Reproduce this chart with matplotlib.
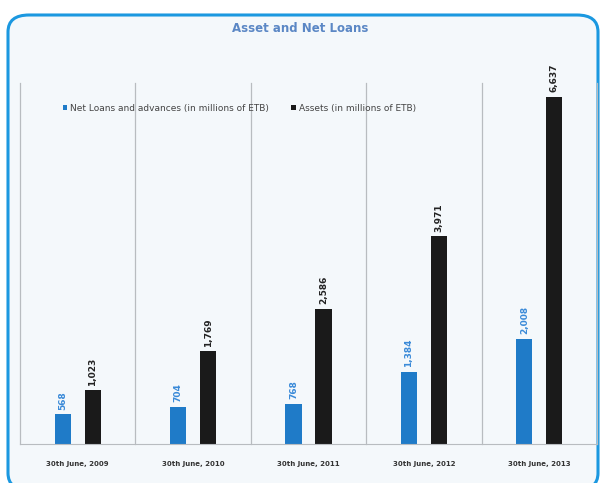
import matplotlib.pyplot as plt
from matplotlib.patches import FancyBboxPatch
import numpy as np

# data
periods = ['30th June, 2009', '30th June, 2010', '30th June, 2011',
           '30th June, 2012', '30th June, 2013']
net_loans = [568, 704, 768, 1384, 2008]
assets = [1023, 1769, 2586, 3971, 6637]
loan_labels = ['568', '704', '768', '1,384', '2,008']
asset_labels = ['1,023', '1,769', '2,586', '3,971', '6,637']

W, H = 600, 483
fig = plt.figure(figsize=(W / 100, H / 100), dpi=100)
fig.patch.set_facecolor('white')

# rounded blue frame, kept behind the axes
frame = FancyBboxPatch((8 / W, 1 - 490 / H), 590 / W, 475 / H,
                       boxstyle='round,pad=0,rounding_size=0.035',
                       transform=fig.transFigure, facecolor='#f4f8fb',
                       edgecolor='#1b98e0', linewidth=2.2, zorder=-10)
fig.patches.append(frame)

fig.text(300 / W, 1 - 29 / H, 'Asset and Net Loans', ha='center', va='center',
         color='#5b87c5', fontsize=8.5, fontweight='bold')

ax = fig.add_axes([20 / W, 1 - 444 / H, 577 / W, 361 / H])
ax.set_facecolor('none')

x = np.arange(len(periods))
bw = 0.14
off = 0.13
ax.bar(x - off, net_loans, bw, color='#1f7bc8',
       label='Net Loans and advances (in millions of ETB)')
ax.bar(x + off, assets, bw, color='#1a1a1a',
       label='Assets (in millions of ETB)')

for xi, v, s in zip(x, net_loans, loan_labels):
    ax.text(xi - off, v + 90, s, rotation=90, ha='center', va='bottom',
            fontsize=6.5, fontweight='bold', color='#3a8ad8')
for xi, v, s in zip(x, assets, asset_labels):
    ax.text(xi + off, v + 90, s, rotation=90, ha='center', va='bottom',
            fontsize=6.5, fontweight='bold', color='#222222')

ax.set_xlim(-0.5, len(periods) - 0.5)
ax.set_ylim(0, 6900)

# separators between periods
for b in np.arange(-0.5, len(periods), 1.0):
    ax.axvline(b, color='#b8bcc0', lw=0.9, clip_on=False)

for s in ['top', 'right', 'left']:
    ax.spines[s].set_visible(False)
ax.spines['bottom'].set_color('#b8bcc0')
ax.set_yticks([])
ax.set_xticks(x)
ax.set_xticklabels(periods, fontsize=5, fontweight='bold', color='#333333')
ax.tick_params(axis='x', length=0, pad=12)

ax.legend(loc='upper left', bbox_to_anchor=(0.06, 0.965), ncol=2, frameon=False,
          fontsize=6.5, handlelength=0.5, handleheight=0.5, columnspacing=2.5,
          handletextpad=0.3, labelcolor='#444444')

fig.savefig('out.png', dpi=100, facecolor=fig.get_facecolor())
